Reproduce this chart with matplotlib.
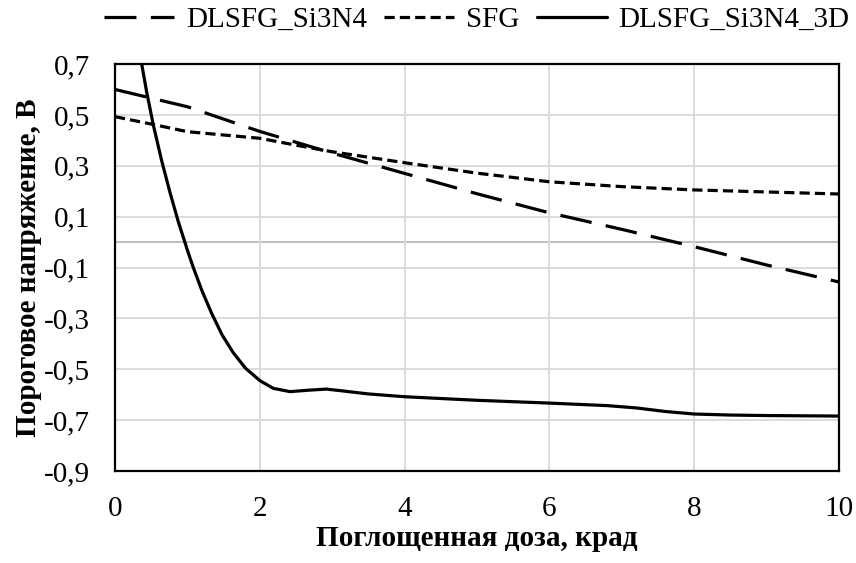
import matplotlib
matplotlib.use('Agg')
import matplotlib.pyplot as plt
import numpy as np
from matplotlib.ticker import FuncFormatter

plt.rcParams['font.family'] = ['Liberation Serif', 'DejaVu Serif']

# data
dose_dl = [0, 1, 2, 3, 4, 5, 6, 7, 8, 9, 10]
vth_dl = [0.60, 0.532, 0.435, 0.35, 0.27, 0.19, 0.115, 0.05, -0.018, -0.09, -0.157]

dose_sfg = [0, 0.5, 1, 2, 2.5, 3, 4, 5, 6, 7, 8, 9, 10]
vth_sfg = [0.493, 0.464, 0.434, 0.408, 0.381, 0.355, 0.312, 0.271, 0.237, 0.218, 0.205, 0.197, 0.189]

dose_3d = [0.30, 0.369, 0.438, 0.53, 0.645, 0.76, 0.875, 1.01, 1.082, 1.2, 1.335, 1.48, 1.634,
           1.8, 2.003, 2.187, 2.417, 2.69, 2.92, 3.11, 3.5, 4.0, 5.0, 6.0, 6.8, 7.2, 7.6, 8.0,
           8.5, 9.0, 10.0]
vth_3d = [0.82, 0.70, 0.59, 0.46, 0.32, 0.195, 0.08, -0.04, -0.10, -0.19, -0.28, -0.365, -0.435,
          -0.495, -0.545, -0.575, -0.588, -0.582, -0.578, -0.584, -0.597, -0.608, -0.622, -0.633,
          -0.643, -0.652, -0.666, -0.676, -0.680, -0.682, -0.684]

fig = plt.figure(figsize=(8.56, 5.63), dpi=100)
ax = fig.add_axes([0.1343, 0.1634, 0.8458, 0.7229])

lw = 2.3
ax.plot(dose_dl, vth_dl, color='black', lw=lw, dashes=(10, 4.5), label='DLSFG_Si3N4', zorder=3)
ax.plot(dose_sfg, vth_sfg, color='black', lw=lw, dashes=(3.2, 1.6), label='SFG', zorder=3)
ax.plot(dose_3d, vth_3d, color='black', lw=lw, solid_capstyle='round', solid_joinstyle='round',
        label='DLSFG_Si3N4_3D', zorder=3)

ax.set_xlim(0, 10)
ax.set_ylim(-0.9, 0.7)
ax.set_xticks(np.arange(0, 11, 2))
ax.set_yticks(np.round(np.arange(-0.9, 0.71, 0.2), 1))
ax.yaxis.set_major_formatter(FuncFormatter(lambda v, p: ('%.1f' % v).replace('.', ',')))
ax.grid(True, color='#d9d9d9', lw=1.3, zorder=0)
ax.axhline(0, color='#bfbfbf', lw=1.5, zorder=1)
ax.tick_params(length=0, labelsize=21, pad=18)
for s in ax.spines.values():
    s.set_color('black')
    s.set_linewidth(1.6)

ax.set_xlabel('Поглощенная доза, крад', fontsize=21, fontweight='bold', labelpad=2)
ax.set_ylabel('Пороговое напряжение, В', fontsize=21, fontweight='bold', labelpad=1)

ax.legend(loc='center', bbox_to_anchor=(0.5, 1.108), ncol=3, frameon=False,
          fontsize=21, handlelength=2.4, handletextpad=0.4, columnspacing=0.6,
          borderaxespad=0, borderpad=0)

fig.savefig('out.png', dpi=100)
